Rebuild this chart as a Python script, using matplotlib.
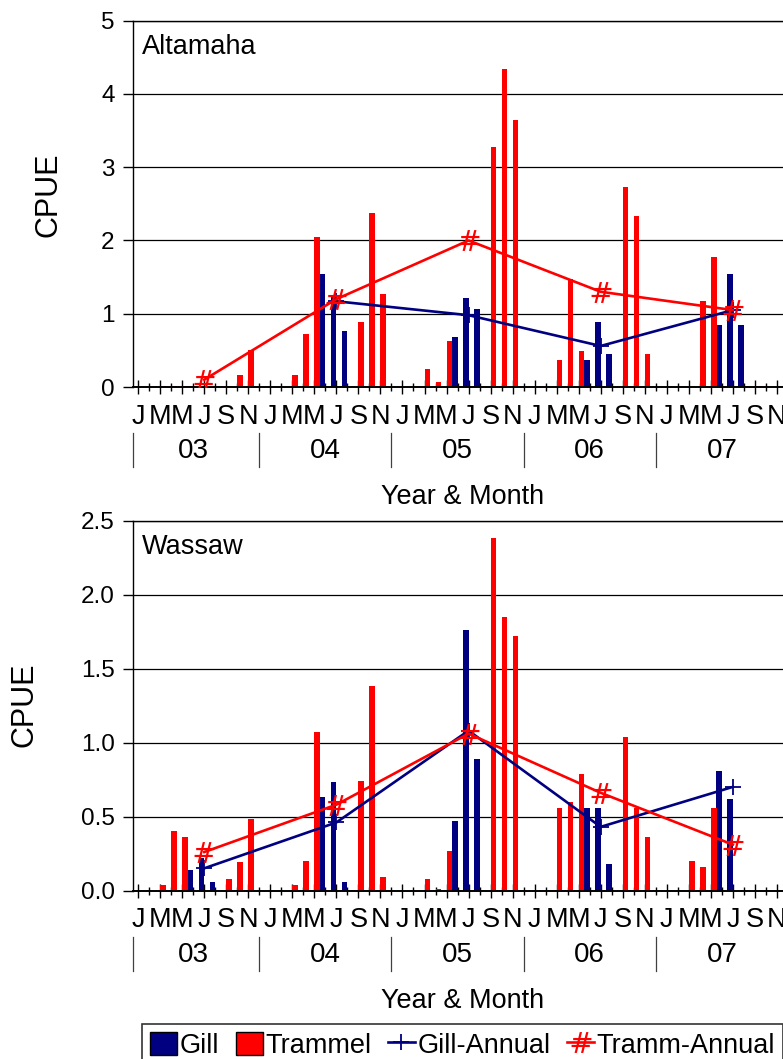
import numpy as np
import matplotlib
matplotlib.use("Agg")
import matplotlib.pyplot as plt
from matplotlib.patches import Patch
from matplotlib.lines import Line2D
from matplotlib.transforms import blended_transform_factory

plt.rcParams['font.family'] = ['Liberation Sans', 'DejaVu Sans']

# month index 0 = Jan 2003 ... 59 = Dec 2007
months = np.arange(60)
month_letters = ['J', 'M', 'M', 'J', 'S', 'N'] * 5
years = ['03', '04', '05', '06', '07']
july = np.array([6, 18, 30, 42, 54])

# Altamaha CPUE
alt_gill = np.zeros(60)
alt_gill[[5, 17, 18, 19, 29, 30, 31, 41, 42, 43, 53, 54, 55]] = [
    0.01, 1.54, 1.26, 0.76, 0.68, 1.22, 1.06, 0.37, 0.89, 0.45, 0.84, 1.54, 0.84]
alt_tram = np.zeros(60)
alt_tram[[2, 3, 4, 8, 9, 10, 14, 15, 16, 20, 21, 22, 26, 27, 28, 32, 33, 34,
          38, 39, 40, 44, 45, 46, 51, 52, 56]] = [
    0.01, 0.02, 0.01, 0.01, 0.17, 0.50, 0.17, 0.73, 2.05, 0.89, 2.38, 1.27,
    0.25, 0.07, 0.63, 3.27, 4.34, 3.64, 0.37, 1.48, 0.49, 2.73, 2.33, 0.45,
    1.18, 1.77, 0.01]
alt_gill_annual = [np.nan, 1.17, 0.98, 0.56, 1.05]
alt_tram_annual = [0.10, 1.20, 2.00, 1.30, 1.05]

# Wassaw CPUE
was_gill = np.zeros(60)
was_gill[[5, 6, 7, 17, 18, 19, 29, 30, 31, 41, 42, 43, 53, 54]] = [
    0.14, 0.22, 0.06, 0.63, 0.73, 0.06, 0.47, 1.76, 0.89, 0.56, 0.56, 0.18,
    0.81, 0.62]
was_tram = np.zeros(60)
was_tram[[2, 3, 4, 8, 9, 10, 14, 15, 16, 20, 21, 22, 26, 27, 28, 32, 33, 34,
          38, 39, 40, 44, 45, 46, 50, 51, 52]] = [
    0.04, 0.40, 0.36, 0.08, 0.19, 0.48, 0.04, 0.20, 1.07, 0.74, 1.38, 0.09,
    0.08, 0.01, 0.27, 2.38, 1.85, 1.72, 0.56, 0.60, 0.79, 1.04, 0.56, 0.36,
    0.20, 0.16, 0.56]
was_gill_annual = [0.15, 0.46, 1.08, 0.43, 0.70]
was_tram_annual = [0.26, 0.58, 1.06, 0.66, 0.31]

NAVY = '#000080'
RED = '#FF0000'
HASH = '$\\#$'
W, H = 783, 1059

fig = plt.figure(figsize=(W / 100, H / 100), dpi=100)


def panel(top, bottom, gill, tram, gill_ann, tram_ann, ymax, ystep, fmt, name):
    ax = fig.add_axes([132.7 / W, 1 - bottom / H, 660.7 / W, (bottom - top) / H])
    hpx = bottom - top
    ax.bar(months - 0.26, gill, width=0.52, color=NAVY, zorder=2)
    ax.bar(months + 0.26, tram, width=0.52, color=RED, zorder=2)
    ax.plot(july, gill_ann, color=NAVY, lw=1.9, marker='+', ms=12, mew=1.3, zorder=3)
    ax.plot(july, tram_ann, color=RED, lw=1.9, marker=HASH, ms=15, mew=0, zorder=4)

    ax.set_xlim(-0.5, 59.5)
    ax.set_ylim(0, ymax)
    yt = np.arange(0, ymax + ystep / 2, ystep)
    ax.set_yticks(yt)
    ax.set_yticklabels([fmt.format(v) for v in yt])
    ax.yaxis.grid(True, color='black', lw=0.9)
    ax.set_axisbelow(True)
    ax.tick_params(axis='y', direction='out', length=7, width=1, pad=6, labelsize=17.5)

    ax.set_xticks(months[::2])
    ax.set_xticklabels(month_letters)
    ax.set_xticks(months[1::2], minor=True)
    ax.tick_params(axis='x', which='major', direction='inout', length=10, width=1,
                   pad=7, labelsize=19.5)
    ax.tick_params(axis='x', which='minor', direction='inout', length=6, width=1)
    for s in ['top', 'left']:
        ax.spines[s].set_linewidth(1)
    ax.spines['bottom'].set_linewidth(1.4)
    ax.spines['right'].set_visible(False)

    # year row under the month letters
    tr = blended_transform_factory(ax.transData, ax.transAxes)
    for i, yr in enumerate(years):
        ax.text(5 + 12 * i, -64 / hpx, yr, transform=tr, ha='center', va='center',
                fontsize=20)
    for s in [-0.5, 11, 23, 35, 47]:
        ax.plot([s, s], [-46 / hpx, -80 / hpx], transform=tr, color='#404040',
                lw=0.9, clip_on=False)
    ax.text(0.5, -110 / hpx, 'Year & Month', transform=ax.transAxes, ha='center',
            va='center', fontsize=19.5)
    ax.annotate(name, xy=(0, 1), xycoords='axes fraction', xytext=(9, -33),
                textcoords='offset pixels', ha='left', va='baseline', fontsize=19.5)
    return ax


panel(20.7, 387, alt_gill, alt_tram, alt_gill_annual, alt_tram_annual,
      5, 1, '{:.0f}', 'Altamaha')
panel(520.5, 890.5, was_gill, was_tram, was_gill_annual, was_tram_annual,
      2.5, 0.5, '{:.1f}', 'Wassaw')

fig.text(48 / W, 1 - 195 / H, 'CPUE', rotation=90, ha='center', va='center',
         fontsize=22)
fig.text(25 / W, 1 - 705 / H, 'CPUE', rotation=90, ha='center', va='center',
         fontsize=22)

handles = [
    Patch(facecolor=NAVY, edgecolor='black', lw=1),
    Patch(facecolor=RED, edgecolor='black', lw=1),
    Line2D([], [], color=NAVY, lw=1.9, marker='+', ms=12, mew=1.3),
    Line2D([], [], color=RED, lw=1.9, marker=HASH, ms=15, mew=0),
]
leg = fig.legend(handles, ['Gill', 'Trammel', 'Gill-Annual', 'Tramm-Annual'],
                 loc='upper left', bbox_to_anchor=(142 / W, 1 - 1024 / H),
                 ncol=4, fontsize=19.5, frameon=True, fancybox=False,
                 handlelength=1.0, handleheight=0.9, handletextpad=0.1,
                 columnspacing=0.6, borderpad=0.3, borderaxespad=0)
leg.get_frame().set_edgecolor('black')
leg.get_frame().set_linewidth(1.2)

fig.savefig('out.png', dpi=100)
